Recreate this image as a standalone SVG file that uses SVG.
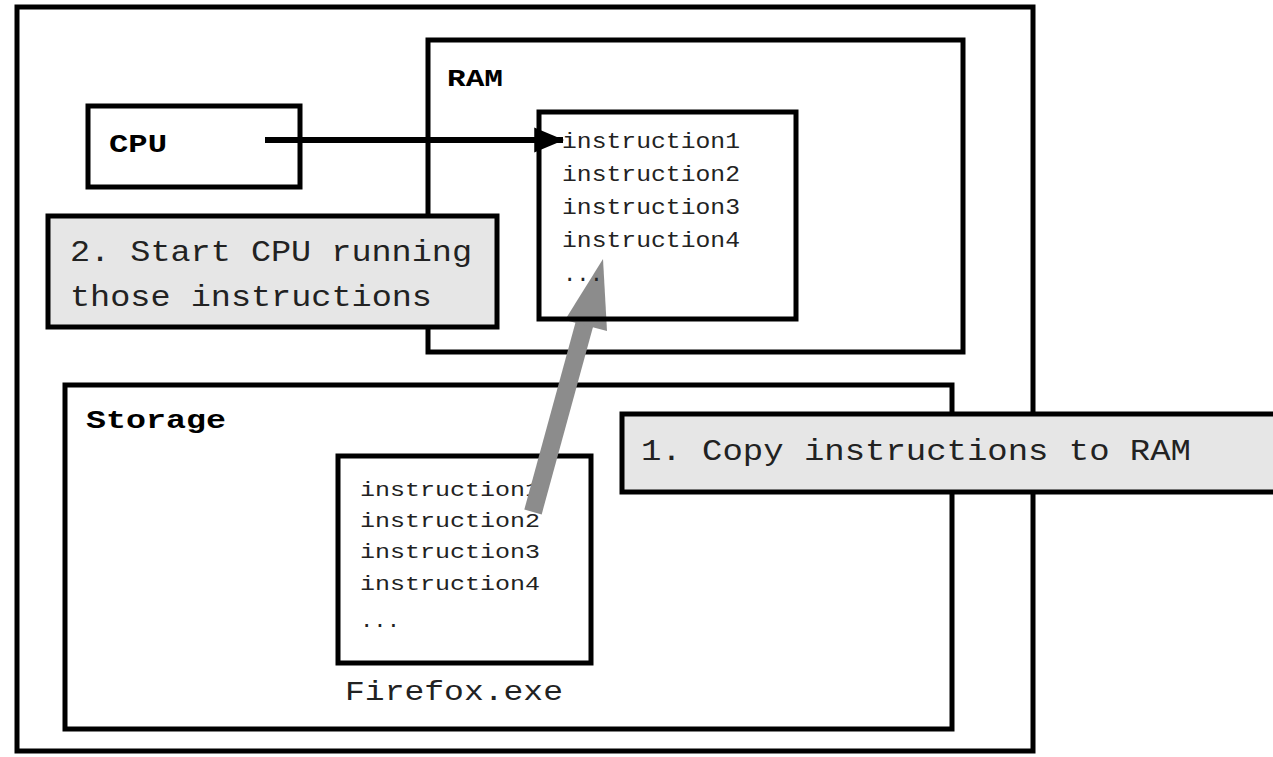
<svg xmlns="http://www.w3.org/2000/svg" width="1273" height="757" viewBox="0 0 1273 757">
<style>
.box{fill:#fff;stroke:#000;stroke-width:5}
.frame{fill:none;stroke:#000;stroke-width:5}
.note{fill:#e6e6e6;stroke:#000;stroke-width:5}
.mono{font-family:"Liberation Mono","Courier New",monospace;fill:#222}
.bold{font-family:"Liberation Mono","Courier New",monospace;font-weight:bold;fill:#000}
</style>
<defs>
<marker id="ah" viewBox="0 0 12 10" refX="11.5" refY="5" markerWidth="5" markerHeight="4.17" orient="auto" markerUnits="strokeWidth">
<path d="M0,0 L12,5 L0,10 z" fill="#000"/>
</marker>
</defs>
<rect width="1273" height="757" fill="#fff"/>
<g id="computer"><rect class="box" x="17" y="7" width="1016" height="744"/></g>
<g id="ram">
<rect class="box" x="428" y="40" width="535" height="312"/>
<text class="bold" x="447" y="86" font-size="24" textLength="56" lengthAdjust="spacingAndGlyphs">RAM</text>
</g>
<g id="cpu">
<rect class="box" x="88" y="106" width="212" height="81"/>
<text class="bold" x="109" y="152" font-size="25" textLength="58" lengthAdjust="spacingAndGlyphs">CPU</text>
</g>
<g id="storage">
<rect class="box" x="65" y="385" width="887" height="344"/>
<text class="bold" x="86" y="428" font-size="25" textLength="140" lengthAdjust="spacingAndGlyphs">Storage</text>
</g>
<g id="firefox">
<rect class="box" x="338" y="456" width="253" height="207"/>
<g class="mono" font-size="21">
<text x="360" y="496" textLength="180" lengthAdjust="spacingAndGlyphs">instruction1</text>
<text x="360" y="527" textLength="180" lengthAdjust="spacingAndGlyphs">instruction2</text>
<text x="360" y="558" textLength="180" lengthAdjust="spacingAndGlyphs">instruction3</text>
<text x="360" y="590" textLength="180" lengthAdjust="spacingAndGlyphs">instruction4</text>
<text x="360" y="627" textLength="40" lengthAdjust="spacingAndGlyphs">...</text>
</g>
<text class="mono" x="345" y="700" font-size="27" textLength="218" lengthAdjust="spacingAndGlyphs">Firefox.exe</text>
</g>
<g id="connectors">
<line x1="265" y1="140" x2="563" y2="140" stroke="#000" stroke-width="6" marker-end="url(#ah)"/>
<line x1="533" y1="512" x2="585" y2="322" stroke="#8c8c8c" stroke-width="18"/>
<polygon points="603,259 607,331 565,320" fill="#8c8c8c"/>
</g>
<g id="ram-list">
<rect class="frame" x="539" y="112" width="257" height="207"/>
<g class="mono" font-size="22">
<text x="562" y="148" textLength="178" lengthAdjust="spacingAndGlyphs">instruction1</text>
<text x="562" y="181" textLength="178" lengthAdjust="spacingAndGlyphs">instruction2</text>
<text x="562" y="214" textLength="178" lengthAdjust="spacingAndGlyphs">instruction3</text>
<text x="562" y="247" textLength="178" lengthAdjust="spacingAndGlyphs">instruction4</text>
<text x="563" y="281" textLength="40" lengthAdjust="spacingAndGlyphs">...</text>
</g>
</g>
<g id="note-start">
<rect class="note" x="48" y="216" width="449" height="111"/>
<text class="mono" x="70" y="261" font-size="29" textLength="402" lengthAdjust="spacingAndGlyphs">2. Start CPU running</text>
<text class="mono" x="70" y="306" font-size="29" textLength="362" lengthAdjust="spacingAndGlyphs">those instructions</text>
</g>
<g id="note-copy">
<rect class="note" x="622" y="414" width="660" height="78"/>
<text class="mono" x="641" y="460" font-size="29" textLength="550" lengthAdjust="spacingAndGlyphs">1. Copy instructions to RAM</text>
</g>
</svg>
